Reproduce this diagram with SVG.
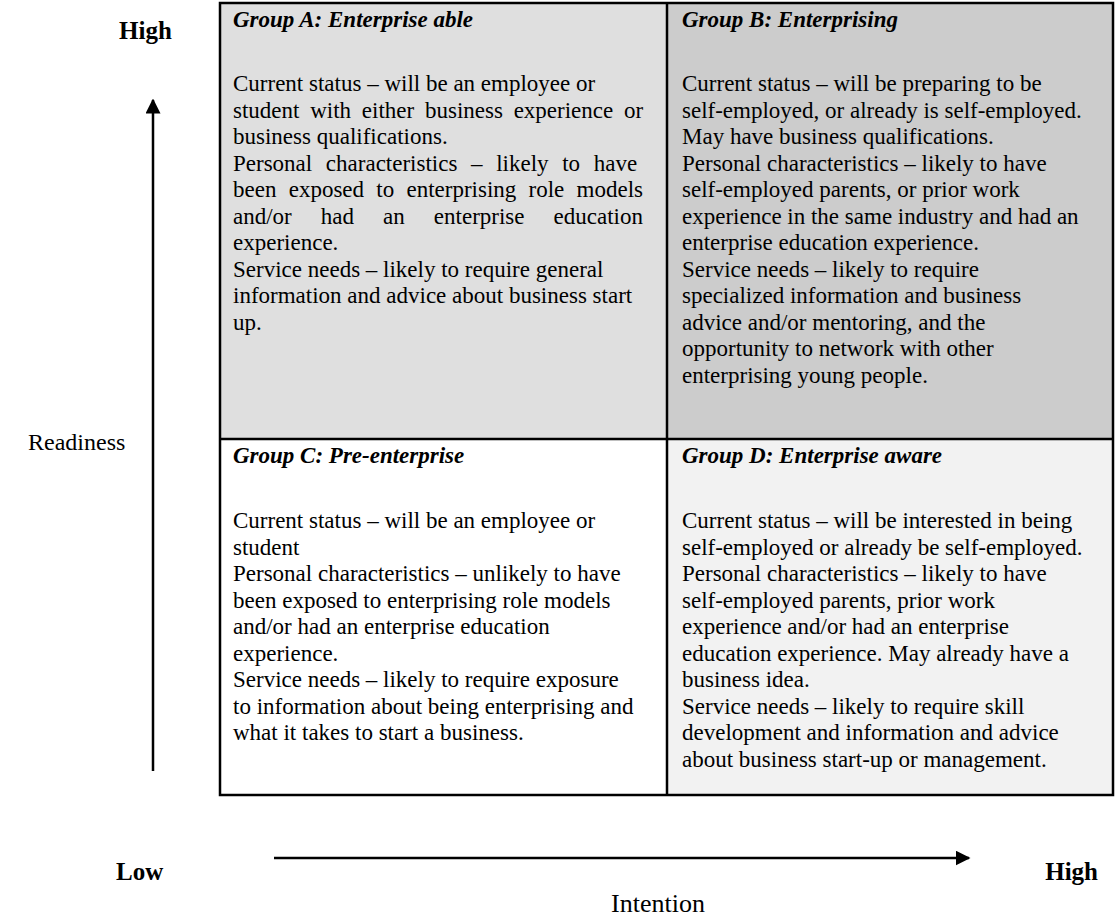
<svg xmlns="http://www.w3.org/2000/svg" width="1115" height="923" viewBox="0 0 1115 923">
<defs>
<style>
.t{font-family:"Liberation Serif","Times New Roman",serif;font-size:23px;fill:#000}
.h{font-family:"Liberation Serif","Times New Roman",serif;font-size:23px;font-weight:bold;font-style:italic;fill:#000}
.ax{font-family:"Liberation Serif","Times New Roman",serif;font-size:25px;font-weight:bold;fill:#000}
.lab{font-family:"Liberation Serif","Times New Roman",serif;font-size:24px;fill:#000}
.ln{stroke:#000;stroke-width:2.5;fill:none}
</style>
<marker id="ah" viewBox="0 0 10 10" refX="9" refY="5" markerWidth="6" markerHeight="6" orient="auto" markerUnits="strokeWidth">
<path d="M0,0 L10,5 L0,10 z" fill="#000"/>
</marker>
</defs>
<rect width="1115" height="923" fill="#fff"/>
<g id="groupA">
<rect x="220" y="3" width="447" height="436" fill="#dfdfdf"/>
<text class="h" x="233" y="27">Group A: Enterprise able</text>
<text class="t" x="233" y="91">Current status – will be an employee or</text>
<text class="t" x="233" y="117.5" style="word-spacing:5px">student with either business experience or</text>
<text class="t" x="233" y="144">business qualifications.</text>
<text class="t" x="233" y="170.5" style="word-spacing:7.9px">Personal characteristics – likely to have</text>
<text class="t" x="233" y="197" style="word-spacing:6.5px">been exposed to enterprising role models</text>
<text class="t" x="233" y="223.5" style="word-spacing:23.3px">and/or had an enterprise education</text>
<text class="t" x="233" y="250">experience.</text>
<text class="t" x="233" y="276.5">Service needs – likely to require general</text>
<text class="t" x="233" y="303">information and advice about business start</text>
<text class="t" x="233" y="329.5">up.</text>
</g>
<g id="groupB">
<rect x="667" y="3" width="446" height="436" fill="#cccccc"/>
<text class="h" x="682" y="27">Group B: Enterprising</text>
<text class="t" x="682" y="91">Current status – will be preparing to be</text>
<text class="t" x="682" y="117.5">self-employed, or already is self-employed.</text>
<text class="t" x="682" y="144">May have business qualifications.</text>
<text class="t" x="682" y="170.5">Personal characteristics – likely to have</text>
<text class="t" x="682" y="197">self-employed parents, or prior work</text>
<text class="t" x="682" y="223.5">experience in the same industry and had an</text>
<text class="t" x="682" y="250">enterprise education experience.</text>
<text class="t" x="682" y="276.5">Service needs – likely to require</text>
<text class="t" x="682" y="303">specialized information and business</text>
<text class="t" x="682" y="329.5">advice and/or mentoring, and the</text>
<text class="t" x="682" y="356">opportunity to network with other</text>
<text class="t" x="682" y="382.5">enterprising young people.</text>
</g>
<g id="groupC">
<rect x="220" y="439" width="447" height="356" fill="#ffffff"/>
<text class="h" x="233" y="463">Group C: Pre-enterprise</text>
<text class="t" x="233" y="528">Current status – will be an employee or</text>
<text class="t" x="233" y="554.5">student</text>
<text class="t" x="233" y="581">Personal characteristics – unlikely to have</text>
<text class="t" x="233" y="607.5">been exposed to enterprising role models</text>
<text class="t" x="233" y="634">and/or had an enterprise education</text>
<text class="t" x="233" y="660.5">experience.</text>
<text class="t" x="233" y="687">Service needs – likely to require exposure</text>
<text class="t" x="233" y="713.5">to information about being enterprising and</text>
<text class="t" x="233" y="740">what it takes to start a business.</text>
</g>
<g id="groupD">
<rect x="667" y="439" width="446" height="356" fill="#f2f2f2"/>
<text class="h" x="682" y="463">Group D: Enterprise aware</text>
<text class="t" x="682" y="528">Current status – will be interested in being</text>
<text class="t" x="682" y="554.5">self-employed or already be self-employed.</text>
<text class="t" x="682" y="581">Personal characteristics – likely to have</text>
<text class="t" x="682" y="607.5">self-employed parents, prior work</text>
<text class="t" x="682" y="634">experience and/or had an enterprise</text>
<text class="t" x="682" y="660.5">education experience. May already have a</text>
<text class="t" x="682" y="687">business idea.</text>
<text class="t" x="682" y="713.5">Service needs – likely to require skill</text>
<text class="t" x="682" y="740">development and information and advice</text>
<text class="t" x="682" y="766.5">about business start-up or management.</text>
</g>
<g id="grid">
<rect class="ln" x="220" y="3" width="893" height="792"/>
<line class="ln" x1="667" y1="3" x2="667" y2="795"/>
<line class="ln" x1="220" y1="439" x2="1113" y2="439"/>
</g>
<g id="connectors">
<line class="ln" x1="153" y1="771" x2="153" y2="100" marker-end="url(#ah)"/>
<line class="ln" x1="274" y1="858" x2="969" y2="858" marker-end="url(#ah)"/>
</g>
<g id="labels">
<text class="ax" x="119" y="39">High</text>
<text class="lab" x="28" y="450">Readiness</text>
<text class="ax" x="116" y="880">Low</text>
<text class="ax" x="1098" y="880" text-anchor="end">High</text>
<text class="lab" x="658" y="912" text-anchor="middle" style="font-size:26px">Intention</text>
</g>
</svg>
